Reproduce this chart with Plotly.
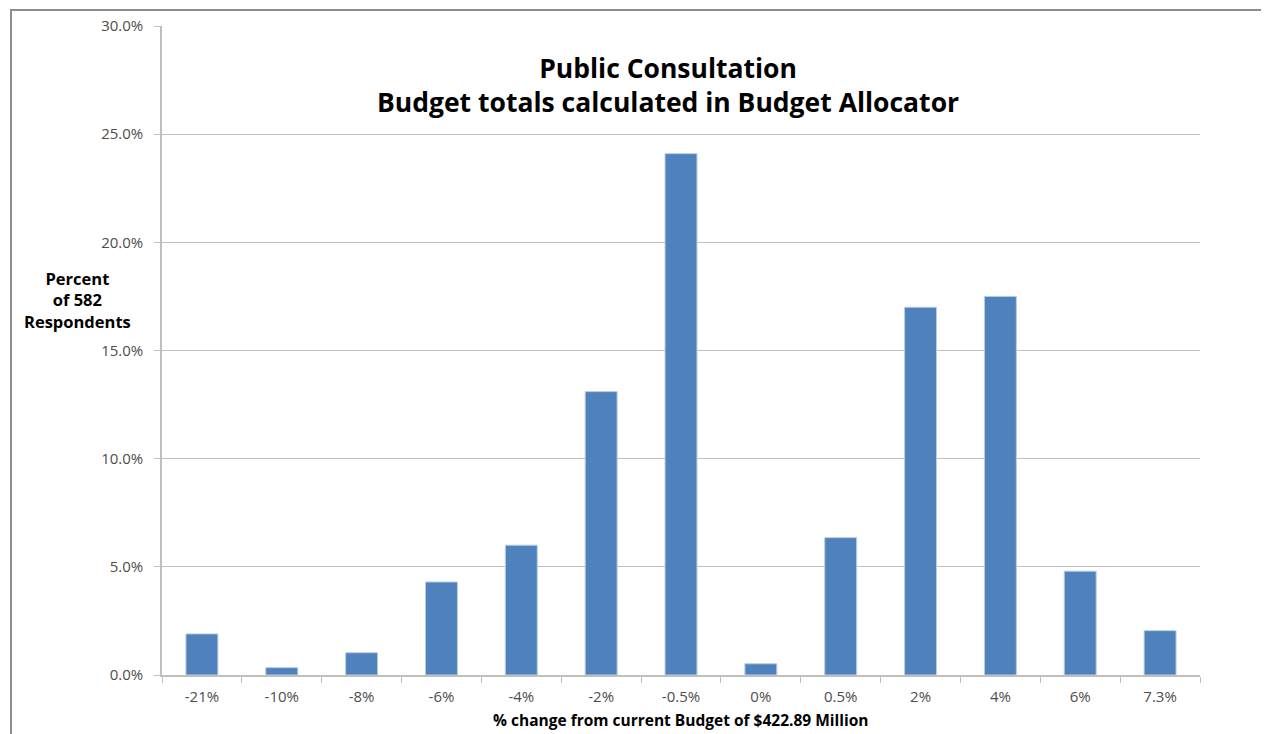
import plotly.graph_objects as go

categories = ["-21%", "-10%", "-8%", "-6%", "-4%", "-2%", "-0.5%", "0%", "0.5%", "2%", "4%", "6%", "7.3%"]
percent_values = [1.9, 0.34, 1.03, 4.3, 6.0, 13.1, 24.1, 0.52, 6.35, 17.0, 17.5, 4.8, 2.05]
y_ticks = [0, 5, 10, 15, 20, 25, 30]
y_tick_labels = ["0.0%", "5.0%", "10.0%", "15.0%", "20.0%", "25.0%", "30.0%"]

OFF = 8  # page body margin
W, H = 1269 - OFF, 734 - OFF
L, T = 162 - OFF, 26 - OFF
pw, ph = 1038, 649
R, B = W - L - pw, H - T - ph

def px_x(x):
    return (x - OFF - L) / pw

def px_y(y):
    return (T + ph - (y - OFF)) / ph

FONT = "Open Sans, sans-serif"

fig = go.Figure()
fig.add_trace(go.Bar(
    x=categories, y=percent_values,
    marker=dict(color="#4F81BD", line=dict(color="#B9CDE5", width=1)),
    hoverinfo="x+y",
))

fig.update_layout(
    width=W, height=H,
    margin=dict(l=L, r=R, t=T, b=B, autoexpand=False),
    paper_bgcolor="white", plot_bgcolor="white",
    bargap=0.6,
    showlegend=False,
    font=dict(family=FONT, color="#595959", size=13),
)
fig.update_xaxes(
    type="category", automargin=False,
    showline=True, linecolor="#BFBFBF", linewidth=1.5,
    ticks="outside", tickson="boundaries", ticklen=6, tickcolor="#BFBFBF",
    tickfont=dict(size=15, color="#4D4D4D", family=FONT),
    ticklabelstandoff=7,
    showgrid=False,
)
fig.update_yaxes(
    range=[0, 30], tickvals=y_ticks, ticktext=y_tick_labels, automargin=False,
    showline=True, linecolor="#BFBFBF", linewidth=1.5,
    ticks="outside", ticklen=6, tickcolor="#BFBFBF",
    ticklabelstandoff=8,
    showgrid=True, gridcolor="#C0C0C0", gridwidth=1,
    tickfont=dict(size=15, color="#4D4D4D", family=FONT),
    zeroline=False,
)

# outer chart border
fig.add_shape(type="rect", xref="paper", yref="paper",
              x0=px_x(11), x1=px_x(1267), y0=px_y(745), y1=px_y(10),
              line=dict(color="#8C8C8C", width=2), fillcolor="rgba(0,0,0,0)", layer="below")

fig.add_annotation(
    xref="paper", yref="paper", x=px_x(668), y=px_y(85),
    text="<b>Public Consultation<br>Budget totals calculated in Budget Allocator</b>",
    showarrow=False, font=dict(size=26.5, color="black", family=FONT),
    align="center", xanchor="center", yanchor="middle",
)
fig.add_annotation(
    xref="paper", yref="paper", x=px_x(77), y=px_y(300),
    text="<b>Percent<br>of 582<br>Respondents</b>",
    showarrow=False, font=dict(size=16.5, color="black", family=FONT),
    align="center", xanchor="center", yanchor="middle",
)
fig.add_annotation(
    xref="paper", yref="paper", x=px_x(681), y=px_y(720),
    text="<b>% change from current Budget of $422.89 Million</b>",
    showarrow=False, font=dict(size=15.5, color="black", family=FONT),
    align="center", xanchor="center", yanchor="middle",
)

fig.write_html("out.html")
